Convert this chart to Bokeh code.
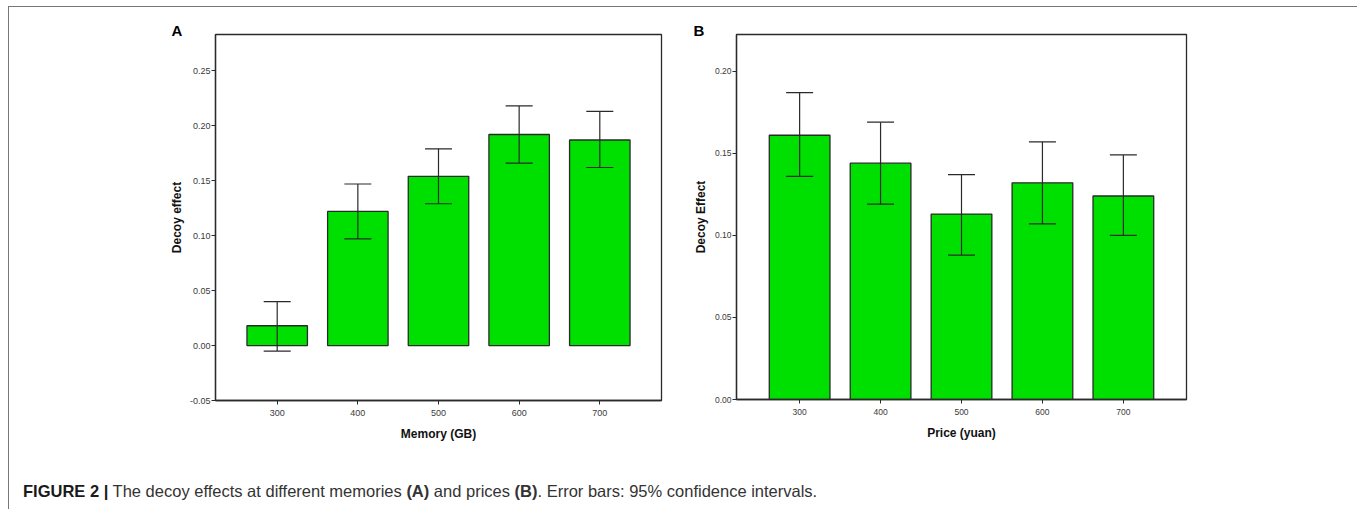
from bokeh.plotting import figure
from bokeh.models import (ColumnDataSource, Range1d, FixedTicker, NumeralTickFormatter,
                          Whisker, TeeHead, Title, Div)
from bokeh.layouts import row, column
from bokeh.embed import file_html
from bokeh.resources import INLINE

# ---------------- data ----------------
memory_levels = [300, 400, 500, 600, 700]
memory_effect = [0.018, 0.122, 0.154, 0.192, 0.187]
memory_lower = [-0.005, 0.097, 0.129, 0.166, 0.162]
memory_upper = [0.040, 0.147, 0.179, 0.218, 0.213]
memory_yticks = [-0.05, 0.00, 0.05, 0.10, 0.15, 0.20, 0.25]

price_levels = [300, 400, 500, 600, 700]
price_effect = [0.161, 0.144, 0.113, 0.132, 0.124]
price_lower = [0.136, 0.119, 0.088, 0.107, 0.100]
price_upper = [0.187, 0.169, 0.137, 0.157, 0.149]
price_yticks = [0.00, 0.05, 0.10, 0.15, 0.20]

caption_html = ("<b style='color:#1a1a1a'>FIGURE 2 |</b> The decoy effects at different memories "
                "<b>(A)</b> and prices <b>(B)</b>. Error bars: 95% confidence intervals.")

FONT = "Liberation Sans"
BAR = "#00e000"
EDGE = "#2a2a2a"


def panel(levels, effect, lower, upper, yticks, xr, yr, xlabel, ylabel, letter, letter_offset,
          fw, fh, mb_left, mb_right, mb_top, mb_bottom, ylab_standoff, tick_size):
    src = ColumnDataSource(dict(x=levels, top=effect, lower=lower, upper=upper))
    p = figure(frame_width=fw, frame_height=fh, x_range=Range1d(*xr), y_range=Range1d(*yr),
               output_backend="svg", toolbar_location=None,
               min_border_left=mb_left, min_border_right=mb_right,
               min_border_top=mb_top, min_border_bottom=mb_bottom)
    p.vbar(x="x", top="top", bottom=0, width=75, source=src,
           fill_color=BAR, line_color=EDGE, line_width=1.3)
    w = Whisker(source=src, base="x", lower="lower", upper="upper",
                line_color=EDGE, line_width=1.2, level="overlay",
                upper_head=TeeHead(size=27, line_color=EDGE, line_width=1.2),
                lower_head=TeeHead(size=27, line_color=EDGE, line_width=1.2))
    p.add_layout(w)
    p.xgrid.visible = False
    p.ygrid.visible = False
    p.outline_line_color = EDGE
    p.outline_line_width = 1.3
    p.background_fill_color = "white"
    p.border_fill_color = "white"

    p.title = Title(text=letter, align="left", offset=letter_offset, standoff=-8,
                    text_font=FONT, text_font_size="15px", text_font_style="bold",
                    text_color="black")

    p.xaxis.ticker = FixedTicker(ticks=levels)
    p.yaxis.ticker = FixedTicker(ticks=yticks)
    p.yaxis.formatter = NumeralTickFormatter(format="0.00")
    for ax in (p.xaxis[0], p.yaxis[0]):
        ax.axis_line_color = EDGE
        ax.axis_line_width = 1.3
        ax.major_tick_line_color = EDGE
        ax.major_tick_out = 4
        ax.major_tick_in = 0
        ax.minor_tick_line_color = None
        ax.major_label_text_font = FONT
        ax.major_label_text_font_size = tick_size
        ax.major_label_text_color = "#3a3a3a"
        ax.axis_label_text_font = FONT
        ax.axis_label_text_font_size = "12px"
        ax.axis_label_text_font_style = "bold"
        ax.axis_label_text_color = "#111111"
    p.xaxis.major_label_standoff = 5
    p.yaxis.major_label_standoff = 1
    p.xaxis.axis_label = xlabel
    p.yaxis.axis_label = ylabel
    p.xaxis.axis_label_standoff = 8
    p.yaxis.axis_label_standoff = ylab_standoff
    return p


pA = panel(memory_levels, memory_effect, memory_lower, memory_upper, memory_yticks,
           (223.5, 776.5), (-0.05, 0.283), "Memory (GB)", "Decoy effect", "A", -44,
           446, 366, 206, 18, 24, 46, 3, "9px")
pB = panel(price_levels, price_effect, price_lower, price_upper, price_yticks,
           (222, 778), (0.0, 0.2224), "Price (yuan)", "Decoy Effect", "B", -43,
           450, 365, 57, 167, 27, 44, 4, "8.5px")

cap = Div(text=caption_html, width=1344, height=58,
          styles={"font-family": "'Liberation Sans', Arial, sans-serif", "font-size": "16.5px",
                  "color": "#333333", "padding-top": "32px", "padding-left": "9px",
                  "white-space": "nowrap"})

layout = column(row(pA, pB, spacing=0), cap, spacing=0,
                styles={"margin-left": "8px", "margin-top": "6px",
                        "border-left": "1.5px solid #777", "border-top": "1.5px solid #777",
                        "border-right": "1.5px solid #777"})

open("out.html", "w").write(file_html(layout, INLINE))
